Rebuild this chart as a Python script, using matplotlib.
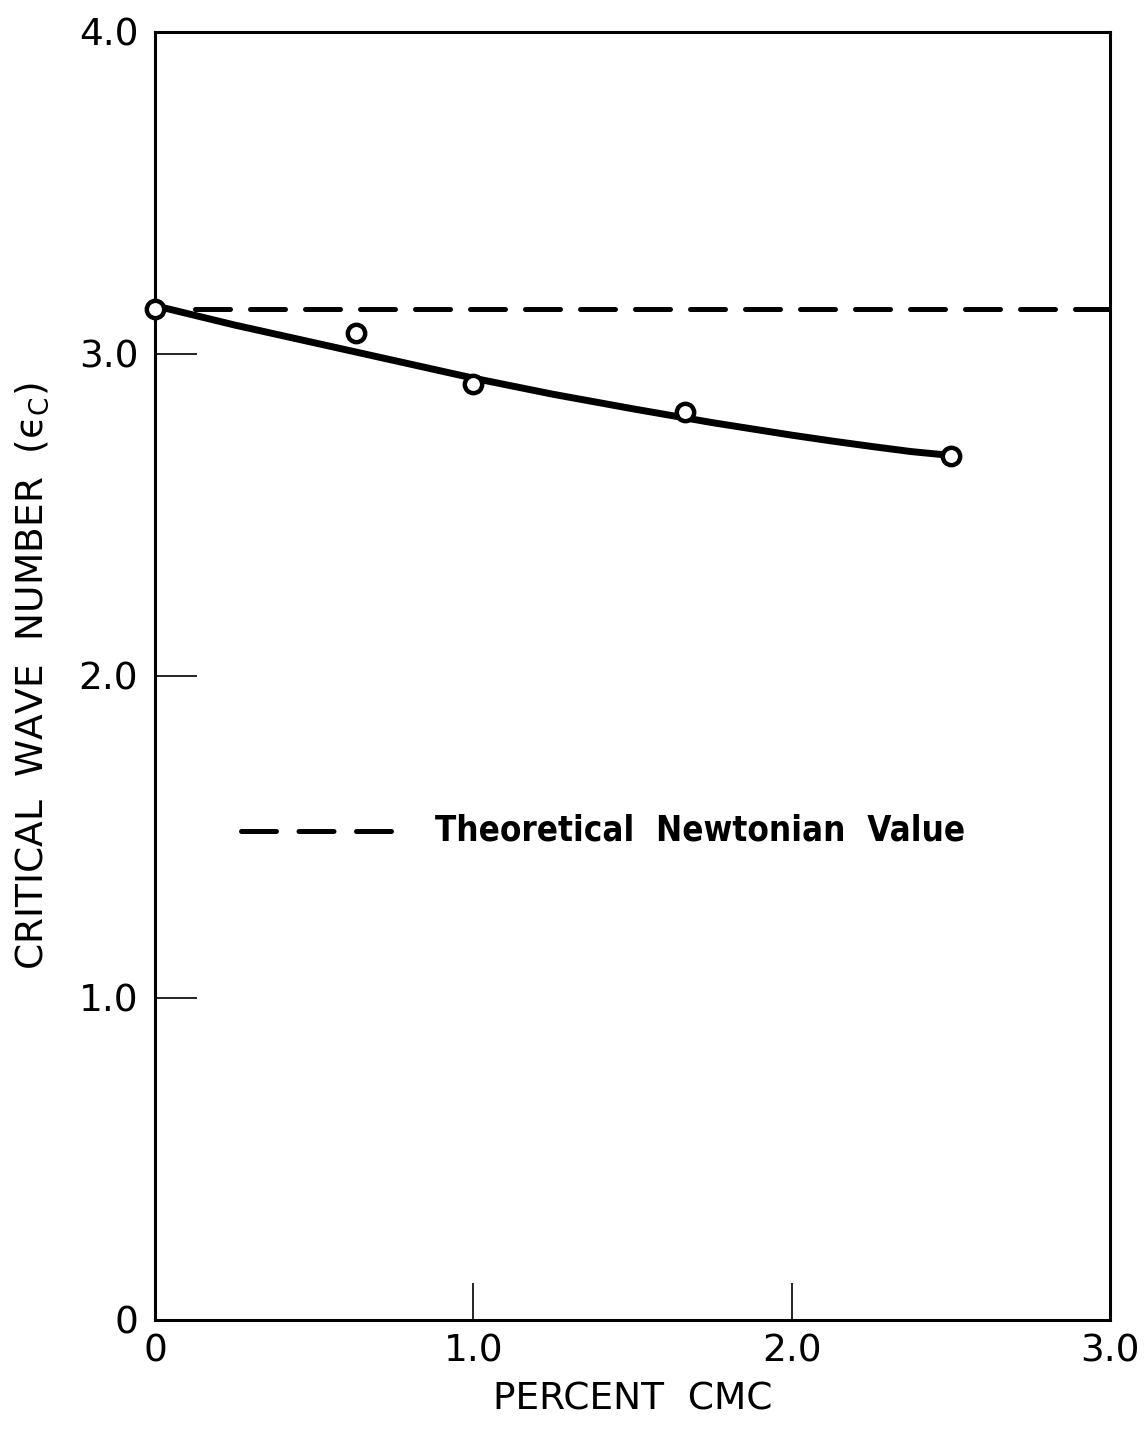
import matplotlib
matplotlib.use("Agg")
import matplotlib.pyplot as plt

# Measured critical wave numbers against CMC concentration
percent_cmc = [0.0, 0.63, 1.0, 1.665, 2.5]
wave_number = [3.14, 3.065, 2.907, 2.82, 2.683]

# Hand-faired curve through the measurements
curve_x = [0.0, 0.25, 0.5, 0.75, 1.0, 1.25, 1.5, 1.75, 2.0, 2.125, 2.25, 2.375, 2.5]
curve_y = [3.15, 3.09, 3.035, 2.98, 2.925, 2.875, 2.83, 2.787, 2.748, 2.73, 2.713, 2.697, 2.685]

# Theoretical Newtonian value (pi)
newtonian_x = [0.125, 3.0]
newtonian_y = [3.14, 3.14]

x_ticks = [0, 1.0, 2.0, 3.0]
x_tick_labels = ["0", "1.0", "2.0", "3.0"]
y_ticks = [0, 1.0, 2.0, 3.0, 4.0]
y_tick_labels = ["0", "1.0", "2.0", "3.0", "4.0"]

plt.rcParams["font.family"] = ["DejaVu Sans"]

fig = plt.figure(figsize=(11.45, 14.37), dpi=100)
ax = fig.add_axes([155 / 1145, 1 - 1320 / 1437, (1110 - 155) / 1145, (1320 - 32) / 1437])

ax.plot(newtonian_x, newtonian_y, color="black", lw=3.6, dashes=(7, 4),
        solid_capstyle="round", dash_capstyle="round", zorder=2)
ax.plot(curve_x, curve_y, color="black", lw=5, solid_capstyle="round",
        solid_joinstyle="round", zorder=3)
ax.plot(percent_cmc, wave_number, linestyle="none", marker="o", ms=12.5,
        mfc="white", mec="black", mew=3.2, zorder=4, clip_on=False)

# Key for the dashed line
ax.plot([0.27, 0.77], [1.52, 1.52], color="black", lw=3.6, dashes=(7, 4.5),
        dash_capstyle="round", zorder=2)
ax.text(0.88, 1.52, "Theoretical  Newtonian  Value", fontsize=25,
        fontweight="bold", va="center", ha="left", fontstretch="condensed")

ax.set_xlim(0, 3.0)
ax.set_ylim(0, 4.0)
ax.set_xticks(x_ticks)
ax.set_xticklabels(x_tick_labels)
ax.set_yticks(y_ticks)
ax.set_yticklabels(y_tick_labels)

ax.tick_params(axis="y", direction="in", length=30, width=1.2, pad=12, labelsize=27)
ax.tick_params(axis="x", direction="in", length=27, width=1.2, pad=10, labelsize=27)

for side in ["left", "right", "top", "bottom"]:
    ax.spines[side].set_linewidth(2.2)

ax.set_xlabel("PERCENT  CMC", fontsize=27, labelpad=8)
ax.set_ylabel("CRITICAL  WAVE  NUMBER  (ϵ$_{\\mathrm{C}}$)", fontsize=27, labelpad=20)

fig.savefig("out.png", dpi=100, facecolor="white")
